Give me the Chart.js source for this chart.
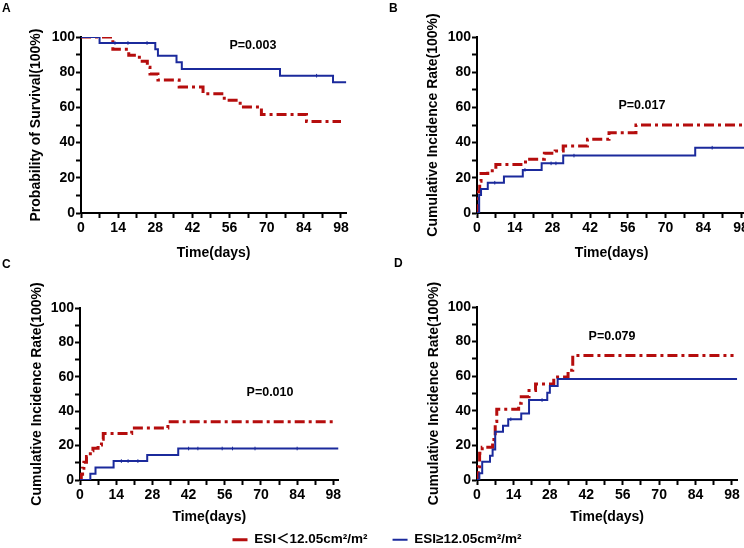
<!DOCTYPE html>
<html><head><meta charset="utf-8">
<script src="https://cdn.jsdelivr.net/npm/chart.js@4.4.0/dist/chart.umd.min.js"></script>
<style>
html,body{margin:0;padding:0;background:#fff;}
#page{position:relative;width:744px;height:548px;overflow:hidden;background:#fff;}
canvas{position:absolute;}
.lbl{position:absolute;font:bold 12px "Liberation Sans",Arial,sans-serif;line-height:12px;color:#000;}
</style></head>
<body><div id="page">
<canvas id="cA" width="372" height="274" style="left:0;top:0"></canvas>
<canvas id="cB" width="400" height="274" style="left:372px;top:0"></canvas>
<canvas id="cC" width="372" height="274" style="left:0;top:274px"></canvas>
<canvas id="cD" width="372" height="274" style="left:372px;top:274px"></canvas>
<canvas id="cL" width="744" height="160" style="left:0;top:508px"></canvas>
<div class="lbl" style="left:2px;top:2px">A</div>
<div class="lbl" style="left:389px;top:2px">B</div>
<div class="lbl" style="left:2px;top:258px">C</div>
<div class="lbl" style="left:394px;top:257px">D</div>
</div>
<script>
// ---- labels & ticks ----
const LABEL_LOW = 'ESI\uFF1C12.05cm\u00B2/m\u00B2';
const LABEL_HIGH = 'ESI\u226512.05cm\u00B2/m\u00B2';
const xTickMarks = [0, 7, 14, 21, 28, 35, 42, 49, 56, 63, 70, 77, 84, 91, 98];
const xTickLabels = [0, 14, 28, 42, 56, 70, 84, 98];
const yTickMarks = [0, 10, 20, 30, 40, 50, 60, 70, 80, 90, 100];
const yTickLabels = [0, 20, 40, 60, 80, 100];

// ---- Panel A: survival ----
const tA_low  = [0, 12, 18, 22, 25, 26, 29, 37, 46, 54, 60, 68, 85, 98];
const sA_low  = [100, 93.1, 89.7, 86.2, 82.8, 79.0, 75.5, 71.6, 67.8, 64.0, 60.2, 56.0, 52.0, 52.0];
const tA_high = [0, 7, 28, 29, 36, 38, 75, 95, 100];
const sA_high = [100, 96.6, 93.1, 89.4, 85.6, 81.8, 78.0, 74.3, 74.3];
const cA_high_t = [12.8, 17.7, 24.9, 88.8];
const cA_high_s = [96.6, 96.6, 96.6, 78.0];

// ---- Panel B: cumulative incidence ----
const tB_low  = [0, 0.5, 1, 1.5, 4, 7, 18, 25, 29, 32, 41, 49, 59, 100];
const sB_low  = [0, 12, 18, 22.5, 24, 27.6, 30.6, 33.9, 35.2, 38, 41.9, 45.6, 50, 50];
const tB_high = [0, 0.8, 1.5, 4, 10, 17, 24, 32, 81, 100];
const sB_high = [0, 10.2, 13.6, 17.2, 20.7, 24.5, 28.2, 32.6, 37.1, 37.1];
const cB_high_t = [6.6, 17.8, 27.5, 29.3, 36, 87.3];
const cB_high_s = [17.2, 24.5, 28.2, 28.2, 32.6, 37.1];

// ---- Panel C ----
const tC_low  = [0, 0.5, 1, 1.5, 2.5, 4, 5, 7, 8.3, 9, 20, 34, 99];
const sC_low  = [0, 3.4, 6.9, 10.3, 13.6, 17.0, 18.5, 20.3, 23.7, 27.0, 30.3, 33.9, 33.9];
const tC_high = [0, 4, 6, 13, 26, 38, 100];
const sC_high = [0, 3.7, 7.3, 11.0, 14.6, 18.3, 18.3];
const cC_high_t = [16, 18.6, 22.4, 42, 45.6, 55, 59, 67.7, 84];
const cC_high_s = [11.0, 11.0, 11.0, 18.3, 18.3, 18.3, 18.3, 18.3, 18.3];

// ---- Panel D ----
const tD_low  = [0, 0.5, 1, 2, 6, 6.5, 7, 7.6, 16, 17, 20, 22.5, 29.5, 35, 36.8, 98.6];
const sD_low  = [0, 7.7, 15.4, 18.9, 22.6, 25.5, 33.8, 40.9, 44.4, 48.1, 51.7, 55.5, 59.5, 63.5, 72, 72];
const tD_high = [0, 0.9, 2, 5, 6, 7, 10, 12, 17, 20, 27, 28, 31, 100];
const sD_high = [0, 3.9, 10.6, 14, 17.7, 27.9, 31.4, 35.1, 38.5, 46.2, 50.5, 54.3, 58.4, 58.4];
const cD_high_t = [13, 25];
const cD_high_s = [35.1, 46.2];

// ---- P values ----
const pTexts = ['P=0.003', 'P=0.017', 'P=0.010', 'P=0.079'];
const pAt = [[64.8, 94.9], [61.2, 61], [73.5, 50.6], [51.9, 82.8]];

const RED = '#B50D0D';
const BLUE = '#1B2A9C';
const FONT = '"Liberation Sans", Arial, "Noto Sans CJK SC", sans-serif';
const TITLE_FS = 14;
const LH = TITLE_FS * 1.2;

function pts(t, s) { return t.map((v, i) => ({x: v, y: s[i]})); }

const pPlugin = {
  id: 'pLabel',
  afterDatasetsDraw(chart, args, opts) {
    if (!opts || !opts.text) return;
    const {ctx} = chart;
    const x = chart.scales.x, y = chart.scales.y;
    ctx.save();
    ctx.font = 'bold 12.5px ' + FONT;
    ctx.fillStyle = '#000';
    ctx.textAlign = 'center';
    ctx.textBaseline = 'middle';
    ctx.fillText(opts.text, x.getPixelForValue(opts.x), y.getPixelForValue(opts.y));
    ctx.restore();
  }
};

function panel(id, g, yTitle, red, blue, cens, pIdx) {
  new Chart(document.getElementById(id), {
    type: 'line',
    data: {datasets: [
      {label: LABEL_LOW, data: red, borderColor: RED, borderWidth: 3, borderDash: [10, 4, 3, 4],
       stepped: 'before', pointRadius: 0, fill: false, order: 2},
      {label: LABEL_HIGH, data: blue, borderColor: BLUE, borderWidth: 2,
       stepped: 'before', pointRadius: 0, fill: false, order: 1},
      {label: 'censored', data: cens, showLine: false, pointStyle: 'line', rotation: 90,
       pointRadius: 1.8, borderColor: BLUE, pointBorderColor: BLUE, pointBorderWidth: 1, order: 0}
    ]},
    options: {
      responsive: false, animation: false, events: [],
      layout: {padding: {left: 0, top: g.T, right: g.CW - g.R, bottom: 0}},
      plugins: {legend: {display: false}, tooltip: {enabled: false},
        pLabel: {text: pTexts[pIdx], x: pAt[pIdx][0], y: pAt[pIdx][1]}},
      scales: {
        x: {type: 'linear', min: 0, max: 100, position: 'bottom',
          afterBuildTicks: s => { s.ticks = xTickMarks.map(v => ({value: v})); },
          ticks: {autoSkip: false, maxRotation: 0, padding: 2, color: '#000',
            font: {family: FONT, size: 14, weight: 'bold'},
            callback: v => xTickLabels.includes(v) ? String(v) : ''},
          grid: {drawOnChartArea: false, drawTicks: true, tickLength: 5, tickWidth: 2, tickColor: '#000'},
          border: {color: '#000', width: 2},
          title: {display: true, text: 'Time(days)', color: '#000',
            font: {family: FONT, size: TITLE_FS, weight: 'bold'},
            padding: {top: 0, bottom: g.CH - g.xt - LH / 2}},
          afterFit: s => { s.height = g.CH - g.B; s.paddingLeft = 0; s.paddingRight = 0; }
        },
        y: {type: 'linear', min: 0, max: 100, position: 'left',
          afterBuildTicks: s => { s.ticks = yTickMarks.map(v => ({value: v})); },
          ticks: {autoSkip: false, padding: 1, color: '#000',
            font: {family: FONT, size: 14, weight: 'bold'},
            callback: v => yTickLabels.includes(v) ? String(v) : ''},
          grid: {drawOnChartArea: false, drawTicks: true, tickLength: 5, tickWidth: 2, tickColor: '#000'},
          border: {color: '#000', width: 2},
          title: {display: true, text: yTitle, color: '#000',
            font: {family: FONT, size: TITLE_FS, weight: 'bold'},
            padding: {top: g.yt - LH / 2, bottom: 0}},
          afterFit: s => { s.width = g.L; s.paddingTop = 0; s.paddingBottom = 0; }
        }
      }
    },
    plugins: [pPlugin]
  });
}

panel('cA', {CW: 372, CH: 274, L: 81, R: 346.3, T: 37, B: 213, yt: 36, xt: 253},
  'Probability of Survival(100%)', pts(tA_low, sA_low), pts(tA_high, sA_high), pts(cA_high_t, cA_high_s), 0);
panel('cB', {CW: 400, CH: 274, L: 105, R: 374.4, T: 37, B: 213, yt: 61, xt: 253},
  'Cumulative Incidence Rate(100%)', pts(tB_low, sB_low), pts(tB_high, sB_high), pts(cB_high_t, cB_high_s), 1);
panel('cC', {CW: 372, CH: 274, L: 80, R: 338.5, T: 34, B: 206, yt: 37, xt: 243},
  'Cumulative Incidence Rate(100%)', pts(tC_low, sC_low), pts(tC_high, sC_high), pts(cC_high_t, cC_high_s), 2);
panel('cD', {CW: 372, CH: 274, L: 105, R: 365.2, T: 33, B: 206, yt: 62, xt: 243},
  'Cumulative Incidence Rate(100%)', pts(tD_low, sD_low), pts(tD_high, sD_high), pts(cD_high_t, cD_high_s), 3);

// ---- legend ----
new Chart(document.getElementById('cL'), {
  type: 'line',
  data: {datasets: [
    {label: LABEL_LOW, data: [{x: 0, y: 0}], borderColor: RED, backgroundColor: RED, borderWidth: 3, borderDash: [5, 3, 2, 3], pointRadius: 0},
    {label: LABEL_HIGH, data: [{x: 0, y: 0}], borderColor: BLUE, backgroundColor: BLUE, borderWidth: 2, pointRadius: 0}
  ]},
  options: {
    responsive: false, animation: false, events: [],
    layout: {padding: {left: 10}},
    scales: {x: {type: 'linear', display: false}, y: {display: false}},
    plugins: {tooltip: {enabled: false},
      legend: {display: true, position: 'top', align: 'center',
        labels: {usePointStyle: true, pointStyle: 'line', pointStyleWidth: 15, boxHeight: 13.5,
          padding: 25, color: '#000', font: {family: FONT, size: 13.5, weight: 'bold'}}}}
  }
});
</script>
</body></html>
